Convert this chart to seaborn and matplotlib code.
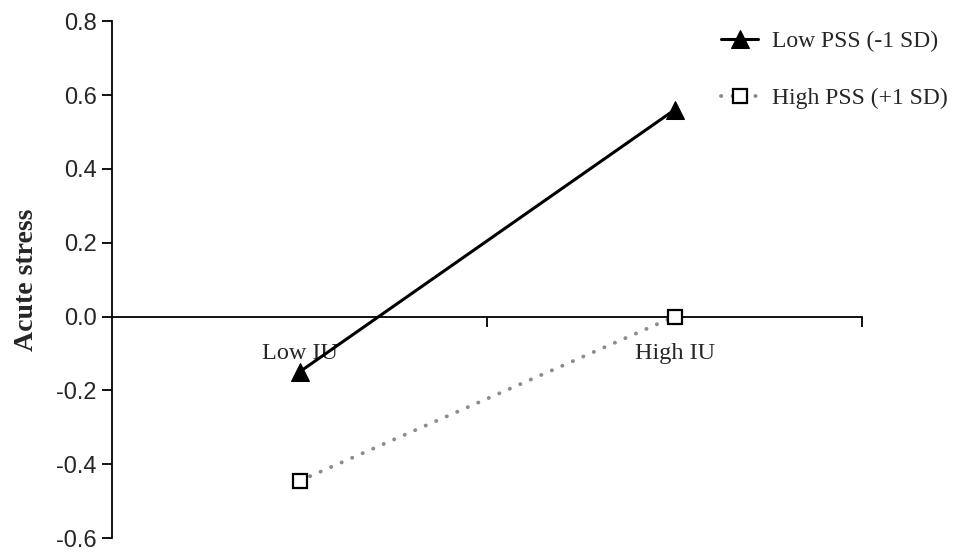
import numpy as np
import pandas as pd
import matplotlib
matplotlib.use("Agg")
import matplotlib.pyplot as plt
import seaborn as sns

# --- data ---
iu_levels = ["Low IU", "High IU"]
low_pss = [-0.15, 0.56]
high_pss = [-0.445, 0.0]
series_names = ["Low PSS (-1 SD)", "High PSS (+1 SD)"]

df = pd.DataFrame({
    "IU": iu_levels * 2,
    "stress": low_pss + high_pss,
    "group": [series_names[0]] * 2 + [series_names[1]] * 2,
})

sns.set_style("white")
plt.rcParams["font.family"] = ["Liberation Serif", "DejaVu Serif"]

fig = plt.figure(figsize=(9.57, 5.57), dpi=100)
ax = fig.add_axes([0.117, 0.034, 0.784, 0.928])

# Low PSS: solid black with filled triangles
sub = df[df["group"] == series_names[0]]
sns.lineplot(data=sub, x="IU", y="stress", ax=ax, color="black", lw=2.2,
             marker="^", markersize=12.5, markeredgecolor="black",
             markerfacecolor="black", label=series_names[0])

# High PSS: grey dotted with open squares
sub = df[df["group"] == series_names[1]]
sns.lineplot(data=sub, x="IU", y="stress", ax=ax, color="#8c8c8c", lw=2.8,
             marker="s", markersize=10.5, markeredgecolor="black",
             markerfacecolor="white", markeredgewidth=1.6,
             label=series_names[1])
ln = ax.lines[1]
ln.set_linestyle((0, (0.05, 2.9)))
ln.set_dash_capstyle("round")
ln.set_zorder(3)

ax.set_xlim(-0.5, 1.5)
ax.set_ylim(-0.6, 0.8)
ax.set_yticks(np.arange(-0.6, 0.81, 0.2))
ax.set_yticklabels([f"{v:.1f}" for v in np.arange(-0.6, 0.81, 0.2)],
                   family="Liberation Sans", fontsize=17)

ax.spines["top"].set_visible(False)
ax.spines["right"].set_visible(False)
ax.spines["bottom"].set_position(("data", 0))
for s in ["left", "bottom"]:
    ax.spines[s].set_color("black")
    ax.spines[s].set_linewidth(1.3)

ax.set_xticks([0, 1])
ax.set_xticklabels(iu_levels, fontsize=17.5)
ax.set_xticks([0.5, 1.5], minor=True)
ax.tick_params(axis="x", which="major", length=0, pad=19)
ax.tick_params(axis="x", which="minor", length=7, width=1.3, direction="out",
               color="black", bottom=True)
ax.tick_params(axis="y", length=7, width=1.3, direction="out", color="black",
               left=True, pad=4)

ax.set_xlabel("")
ax.set_ylabel("Acute stress", fontsize=20, fontweight="bold", labelpad=12)

ax.legend(loc="upper left", bbox_to_anchor=(0.744, 0.962),
          bbox_transform=fig.transFigure, frameon=False, fontsize=17,
          handlelength=1.55, handletextpad=0.6, labelspacing=1.5,
          borderaxespad=0)

fig.savefig("out.png", dpi=100)
